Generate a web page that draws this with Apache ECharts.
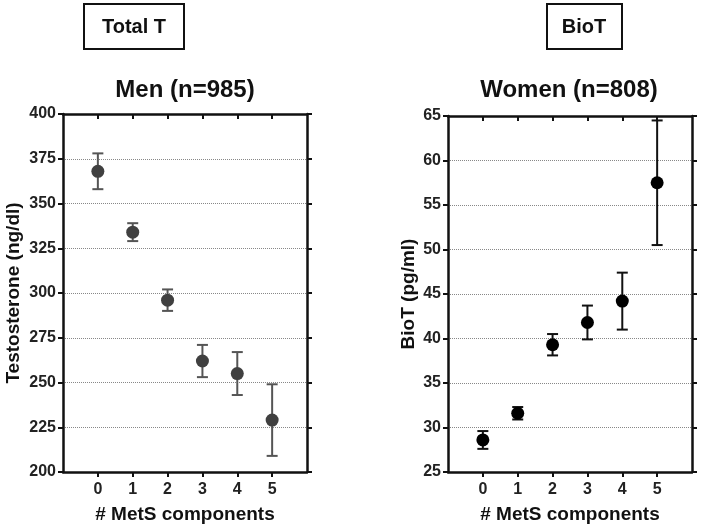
<!DOCTYPE html>
<html>
<head>
<meta charset="utf-8">
<script src="https://cdn.jsdelivr.net/npm/echarts@6/dist/echarts.min.js"></script>
<style>
  html, body { margin: 0; padding: 0; background: #fff; }
  #chart { width: 701px; height: 529px; }
</style>
</head>
<body>
<div id="chart"></div>
<script>
var categories = [0, 1, 2, 3, 4, 5];

// Men, total testosterone (ng/dl)
var menMean = [368, 334, 296, 262, 255, 229];
var menLow  = [358, 329, 290, 253, 243, 209];
var menHigh = [378, 339, 302, 271, 267, 249];
var menTicks = [200, 225, 250, 275, 300, 325, 350, 375, 400];

// Women, bioavailable testosterone (pg/ml)
var womenMean = [28.6, 31.6, 39.3, 41.8, 44.2, 57.5];
var womenLow  = [27.6, 30.9, 38.1, 39.9, 41.0, 50.5];
var womenHigh = [29.6, 32.3, 40.5, 43.7, 47.4, 64.5];
var womenTicks = [25, 30, 35, 40, 45, 50, 55, 60, 65];

var font = "'Liberation Sans', Arial, sans-serif";
var axisColor = '#111';

function points(mean) {
	return categories.map(function (c, i) { return [c, mean[i]]; });
}
function bars(low, high) {
	return categories.map(function (c, i) { return [c, low[i], high[i]]; });
}

function errRenderer(color) {
	return function (params, api) {
		var x = api.value(0);
		var lo = api.coord([x, api.value(1)]);
		var hi = api.coord([x, api.value(2)]);
		var hw = 5.5;
		var st = { stroke: color, lineWidth: 2 };
		return {
			type: 'group',
			children: [
				{ type: 'line', shape: { x1: hi[0], y1: hi[1], x2: lo[0], y2: lo[1] }, style: st },
				{ type: 'line', shape: { x1: hi[0] - hw, y1: hi[1], x2: hi[0] + hw, y2: hi[1] }, style: st },
				{ type: 'line', shape: { x1: lo[0] - hw, y1: lo[1], x2: lo[0] + hw, y2: lo[1] }, style: st }
			]
		};
	};
}

function xAxes(gridIndex) {
	var base = {
		gridIndex: gridIndex,
		type: 'value',
		min: -1,
		max: 6,
		interval: 1,
		splitLine: { show: false },
		axisLine: { onZero: false, lineStyle: { color: axisColor, width: 2.5 } }
	};
	var bottom = Object.assign({}, base, {
		position: 'bottom',
		name: '# MetS components',
		nameLocation: 'middle',
		nameGap: 33,
		nameTextStyle: { fontFamily: font, fontWeight: 'bold', fontSize: 19, color: '#111' },
		axisTick: { customValues: categories, length: 5, lineStyle: { color: axisColor, width: 2 } },
		axisLabel: { customValues: categories, margin: 10, fontFamily: font, fontWeight: 'bold', fontSize: 16, color: '#222' }
	});
	var top = Object.assign({}, base, {
		position: 'top',
		axisTick: { customValues: categories, inside: true, length: 5, lineStyle: { color: axisColor, width: 2 } },
		axisLabel: { show: false }
	});
	return [bottom, top];
}

function yAxes(gridIndex, ticks, name, gap) {
	var base = {
		gridIndex: gridIndex,
		type: 'value',
		min: ticks[0],
		max: ticks[ticks.length - 1],
		interval: ticks[1] - ticks[0],
		axisLine: { show: true, onZero: false, lineStyle: { color: axisColor, width: 2.5 } },
		axisTick: { show: true, length: 5, lineStyle: { color: axisColor, width: 2 } }
	};
	var left = Object.assign({}, base, {
		position: 'left',
		name: name,
		nameLocation: 'middle',
		nameGap: gap,
		nameTextStyle: { fontFamily: font, fontWeight: 'bold', fontSize: 19, color: '#111' },
		axisLabel: { margin: 7, fontFamily: font, fontWeight: 'bold', fontSize: 16, color: '#222' },
		splitLine: { show: true, lineStyle: { color: '#888', type: 'dotted', width: 1 } }
	});
	var right = Object.assign({}, base, {
		position: 'right',
		axisLabel: { show: false },
		splitLine: { show: false }
	});
	return [left, right];
}

var chart = echarts.init(document.getElementById('chart'));

var xs = xAxes(0).concat(xAxes(1));
var ys = yAxes(0, menTicks, 'Testosterone (ng/dl)', 40).concat(yAxes(1, womenTicks, 'BioT (pg/ml)', 30));

var option = {
	backgroundColor: '#fff',
	animation: false,
	grid: [
		{ left: 63, top: 114, width: 244, height: 358 },
		{ left: 448, top: 116, width: 244, height: 356 }
	],
	xAxis: xs,
	yAxis: ys,
	graphic: [
		{ type: 'rect', shape: { x: 84, y: 4, width: 100, height: 45 }, style: { fill: '#fff', stroke: '#111', lineWidth: 2 } },
		{ type: 'text', x: 134, y: 27, style: { text: 'Total T', font: 'bold 20px ' + font, fill: '#111', align: 'center', verticalAlign: 'middle' } },
		{ type: 'rect', shape: { x: 547, y: 4, width: 75, height: 45 }, style: { fill: '#fff', stroke: '#111', lineWidth: 2 } },
		{ type: 'text', x: 584, y: 27, style: { text: 'BioT', font: 'bold 20px ' + font, fill: '#111', align: 'center', verticalAlign: 'middle' } },
		{ type: 'text', x: 185, y: 90, style: { text: 'Men (n=985)', font: 'bold 24px ' + font, fill: '#111', align: 'center', verticalAlign: 'middle' } },
		{ type: 'text', x: 569, y: 90, style: { text: 'Women (n=808)', font: 'bold 24px ' + font, fill: '#111', align: 'center', verticalAlign: 'middle' } }
	],
	series: [
		{
			type: 'custom',
			xAxisIndex: 0,
			yAxisIndex: 0,
			renderItem: errRenderer('#555'),
			encode: { x: 0, y: [1, 2] },
			data: bars(menLow, menHigh),
			z: 2
		},
		{
			type: 'scatter',
			xAxisIndex: 0,
			yAxisIndex: 0,
			symbolSize: 13,
			itemStyle: { color: '#404040', opacity: 1 },
			data: points(menMean),
			z: 3
		},
		{
			type: 'custom',
			xAxisIndex: 2,
			yAxisIndex: 2,
			renderItem: errRenderer('#111'),
			encode: { x: 0, y: [1, 2] },
			data: bars(womenLow, womenHigh),
			z: 2
		},
		{
			type: 'scatter',
			xAxisIndex: 2,
			yAxisIndex: 2,
			symbolSize: 13,
			itemStyle: { color: '#000', opacity: 1 },
			data: points(womenMean),
			z: 3
		}
	]
};

chart.setOption(option);
</script>
</body>
</html>
